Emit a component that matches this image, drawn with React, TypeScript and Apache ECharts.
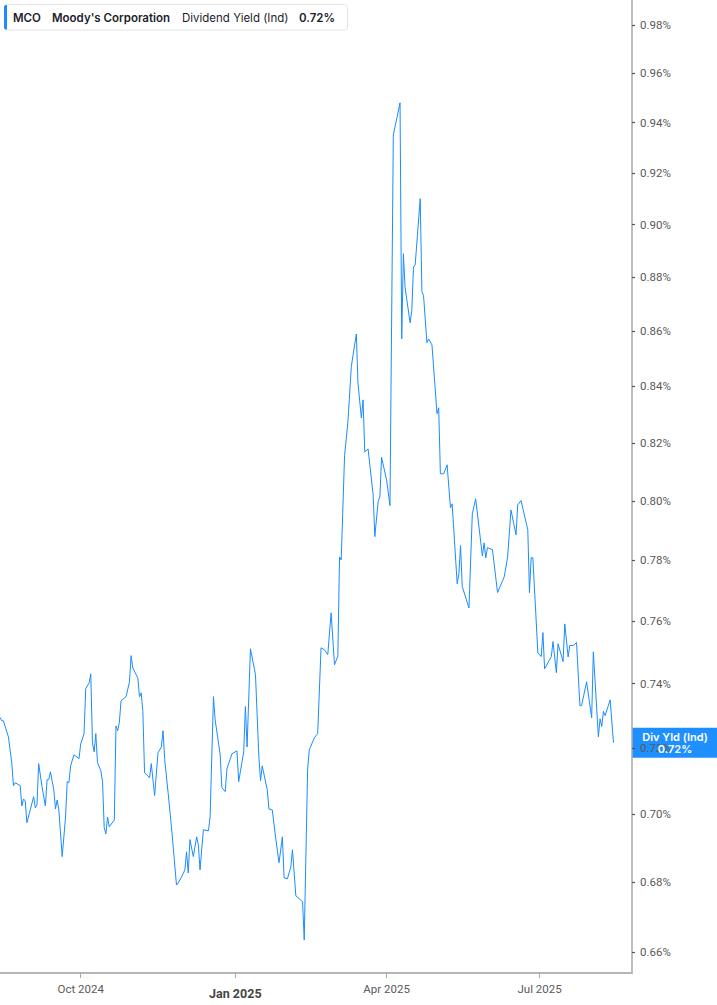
import React, { useEffect, useRef } from 'react';
import * as echarts from 'echarts';

const ticker = 'MCO';
const company = "Moody's Corporation";
const metric = 'Dividend Yield (Ind)';
const badgeTitle = 'Div Yld (Ind)';

const dates = [
  '2024-08-14','2024-08-15','2024-08-16','2024-08-19','2024-08-21','2024-08-22','2024-08-23','2024-08-26','2024-08-27','2024-08-28',
  '2024-08-29','2024-08-30','2024-09-01','2024-09-03','2024-09-04','2024-09-05','2024-09-06','2024-09-08','2024-09-10','2024-09-11',
  '2024-09-12','2024-09-13','2024-09-15','2024-09-16','2024-09-17','2024-09-18','2024-09-20','2024-09-22','2024-09-23','2024-09-24',
  '2024-09-25','2024-09-27','2024-09-30','2024-10-01','2024-10-03','2024-10-04','2024-10-06','2024-10-07','2024-10-08','2024-10-09',
  '2024-10-10','2024-10-11','2024-10-13','2024-10-14','2024-10-15','2024-10-16','2024-10-17','2024-10-18','2024-10-21','2024-10-22',
  '2024-10-23','2024-10-24','2024-10-25','2024-10-28','2024-10-30','2024-10-31','2024-11-01','2024-11-04','2024-11-05','2024-11-06',
  '2024-11-07','2024-11-08','2024-11-11','2024-11-12','2024-11-14','2024-11-16','2024-11-18','2024-11-19','2024-11-20','2024-11-22',
  '2024-11-24','2024-11-27','2024-11-28','2024-11-30','2024-12-02','2024-12-03','2024-12-04','2024-12-05','2024-12-07','2024-12-09',
  '2024-12-10','2024-12-11','2024-12-13','2024-12-16','2024-12-17','2024-12-19','2024-12-20','2024-12-23','2024-12-24','2024-12-26',
  '2024-12-27','2024-12-30','2025-01-02','2025-01-03','2025-01-06','2025-01-07','2025-01-08','2025-01-10','2025-01-13','2025-01-15',
  '2025-01-16','2025-01-17','2025-01-20','2025-01-21','2025-01-23','2025-01-25','2025-01-27','2025-01-29','2025-01-30','2025-02-01',
  '2025-02-03','2025-02-04','2025-02-06','2025-02-10','2025-02-11','2025-02-13','2025-02-14','2025-02-17','2025-02-19','2025-02-21',
  '2025-02-23','2025-02-25','2025-02-27','2025-03-01','2025-03-03','2025-03-04','2025-03-05','2025-03-07','2025-03-09','2025-03-11',
  '2025-03-12','2025-03-14','2025-03-15','2025-03-17','2025-03-18','2025-03-19','2025-03-21','2025-03-24','2025-03-25','2025-03-27',
  '2025-03-28','2025-03-29','2025-04-01','2025-04-03','2025-04-05','2025-04-09','2025-04-10','2025-04-11','2025-04-12','2025-04-15',
  '2025-04-16','2025-04-17','2025-04-18','2025-04-21','2025-04-22','2025-04-23','2025-04-25','2025-04-26','2025-04-28','2025-05-01',
  '2025-05-02','2025-05-03','2025-05-05','2025-05-07','2025-05-09','2025-05-10','2025-05-13','2025-05-14','2025-05-15','2025-05-16',
  '2025-05-20','2025-05-22','2025-05-24','2025-05-28','2025-05-29','2025-05-30','2025-05-31','2025-06-03','2025-06-06','2025-06-10',
  '2025-06-12','2025-06-14','2025-06-17','2025-06-18','2025-06-20','2025-06-24','2025-06-25','2025-06-26','2025-06-27','2025-06-30',
  '2025-07-02','2025-07-03','2025-07-04','2025-07-08','2025-07-09','2025-07-11','2025-07-12','2025-07-15','2025-07-16','2025-07-18',
  '2025-07-19','2025-07-21','2025-07-23','2025-07-25','2025-07-26','2025-07-29','2025-08-01','2025-08-02','2025-08-05','2025-08-06',
  '2025-08-07','2025-08-08','2025-08-09','2025-08-12','2025-08-14',
];

// Dividend yield, percent
const yieldPct = [
  0.7294,0.7284,0.7284,0.7234,0.7155,0.7085,0.7094,0.7085,0.7024,0.7045,
  0.7039,0.6974,0.7012,0.7052,0.7018,0.7027,0.7152,0.7082,0.7024,0.7103,
  0.7103,0.7127,0.7073,0.7015,0.7042,0.7012,0.6874,0.6991,0.7097,0.7094,
  0.7145,0.7179,0.7167,0.7212,0.7244,0.7384,0.7402,0.7431,0.7216,0.7188,
  0.7244,0.7155,0.7130,0.7097,0.6959,0.6941,0.6991,0.6962,0.6982,0.7268,
  0.7253,0.7278,0.7346,0.7359,0.7405,0.7489,0.7450,0.7418,0.7359,0.7371,
  0.7312,0.7124,0.7109,0.7152,0.7055,0.7185,0.7203,0.7253,0.7164,0.7064,
  0.6962,0.6791,0.6797,0.6815,0.6835,0.6888,0.6826,0.6924,0.6874,0.6932,
  0.6909,0.6835,0.6953,0.6950,0.6991,0.7359,0.7287,0.7179,0.7079,0.7067,
  0.7136,0.7182,0.7191,0.7097,0.7188,0.7328,0.7203,0.7511,0.7428,0.7173,
  0.7100,0.7145,0.7073,0.7015,0.7012,0.6929,0.6856,0.6932,0.6812,0.6809,
  0.6844,0.6894,0.6760,0.6743,0.6634,0.7133,0.7194,0.7231,0.7244,0.7514,
  0.7508,0.7492,0.7627,0.7460,0.7487,0.7811,0.7801,0.8156,0.8275,0.8471,
  0.8512,0.8590,0.8409,0.8288,0.8352,0.8169,0.8179,0.8020,0.7879,0.7999,
  0.8013,0.8150,0.8072,0.7984,0.9351,0.9480,0.8572,0.8889,0.8761,0.8631,
  0.8677,0.8839,0.8847,0.9100,0.8747,0.8731,0.8558,0.8572,0.8550,0.8303,
  0.8324,0.8093,0.8093,0.8124,0.7976,0.7990,0.7722,0.7755,0.7849,0.7713,
  0.7643,0.7956,0.8007,0.7814,0.7858,0.7808,0.7842,0.7835,0.7693,0.7745,
  0.7811,0.7969,0.7885,0.7986,0.8001,0.7902,0.7693,0.7809,0.7808,0.7498,
  0.7486,0.7563,0.7447,0.7486,0.7534,0.7435,0.7527,0.7470,0.7591,0.7485,
  0.7522,0.7521,0.7531,0.7331,0.7331,0.7406,0.7293,0.7501,0.7234,0.7290,
  0.7266,0.7313,0.7300,0.7349,0.7216,
];

const xTickDates = ['2024-10-01', '2025-01-01', '2025-04-01', '2025-07-01'];
const xTickLabels = ['Oct 2024', 'Jan 2025', 'Apr 2025', 'Jul 2025'];
const xTickBold = [false, true, false, false];
const yTickValues = [0.66, 0.68, 0.7, 0.72, 0.74, 0.76, 0.78, 0.8, 0.82, 0.84, 0.86, 0.88, 0.9, 0.92, 0.94, 0.96, 0.98];

const X_MIN = '2024-08-14';
const X_MAX = '2025-08-25';
const Y_MIN = 0.6541;
const Y_MAX = 0.9905;

const LINE_COLOR = '#1a8cff';
const BADGE_COLOR = '#1e8fff';
const TEXT_DARK = '#1d1d2b';
const AXIS_TEXT = '#5a5a5a';

function ts(s: string): number {
  const [y, m, d] = s.split('-').map(Number);
  return Date.UTC(y, m - 1, d);
}

export default function App() {
  const ref = useRef<HTMLDivElement>(null);

  useEffect(() => {
    document.body.style.margin = '0';
    const el = ref.current;
    if (!el) return;
    const chart = echarts.init(el, null, { renderer: 'svg' });

    const seriesData = dates.map((d, i) => [ts(d), Math.log(yieldPct[i])]);
    const xTicks = xTickDates.map(ts);
    const yTicks = yTickValues.map((v) => Math.log(v));
    const last = yieldPct[yieldPct.length - 1];
    const lastLabel = last.toFixed(2) + '%';

    const option: any = {
      animation: false,
      grid: { left: 0, right: 85, top: 0, bottom: 32, containLabel: false },
      xAxis: {
        type: 'value',
        min: ts(X_MIN),
        max: ts(X_MAX),
        axisLine: { show: true, lineStyle: { color: '#b4b4b4', width: 2 } },
        axisTick: { show: true, customValues: xTicks, length: 5, lineStyle: { color: '#a8a8a8', width: 1 } },
        axisLabel: {
          customValues: xTicks,
          color: AXIS_TEXT,
          fontSize: 11.5,
          fontFamily: 'Roboto',
          margin: 10,
          formatter: (v: number) => {
            let best = 0;
            let bd = Infinity;
            xTicks.forEach((t, i) => {
              const dd = Math.abs(t - v);
              if (dd < bd) { bd = dd; best = i; }
            });
            const lab = xTickLabels[best];
            return xTickBold[best] ? '{b|' + lab + '}' : lab;
          },
          rich: {
            b: { fontWeight: 'bold', fontSize: 12.5, color: '#454545', fontFamily: 'Roboto', padding: [4, 0, 0, 0] },
          },
        },
        splitLine: { show: false },
      },
      yAxis: {
        type: 'value',
        position: 'right',
        min: Math.log(Y_MIN),
        max: Math.log(Y_MAX),
        axisLine: { show: true, lineStyle: { color: '#a8a8a8', width: 1.5 } },
        axisTick: { show: true, customValues: yTicks, length: 3, lineStyle: { color: '#555', width: 1.2 } },
        axisLabel: {
          customValues: yTicks,
          color: AXIS_TEXT,
          fontSize: 11.5,
          fontFamily: 'Roboto',
          margin: 8,
          formatter: (v: number) => Math.exp(v).toFixed(2) + '%',
        },
        splitLine: { show: false },
      },
      series: [
        {
          type: 'line',
          data: seriesData,
          showSymbol: false,
          silent: true,
          lineStyle: { color: LINE_COLOR, width: 1 },
        },
      ],
    };
    chart.setOption(option);

    const p = chart.convertToPixel({ gridIndex: 0 }, [ts(dates[dates.length - 1]), Math.log(last)]) as number[];
    const gridRight = 717 - 85;
    const by = p && isFinite(p[1]) ? p[1] : 743;

    chart.setOption({
      graphic: [
        {
          type: 'group',
          children: [
            { type: 'rect', shape: { x: 4.5, y: 4.5, width: 343, height: 25.5, r: 3 }, style: { fill: '#ffffff', stroke: '#e4e4e4', lineWidth: 1 } },
            { type: 'rect', shape: { x: 4, y: 5, width: 3, height: 24.5, r: [2, 0, 0, 2] }, style: { fill: LINE_COLOR } },
            { type: 'text', x: 13, y: 17.5, style: { text: ticker, fill: TEXT_DARK, font: '600 11.5px Inter', verticalAlign: 'middle' } },
            { type: 'text', x: 52, y: 17.5, style: { text: company, fill: TEXT_DARK, font: '600 11.5px Inter', verticalAlign: 'middle' } },
            { type: 'text', x: 182, y: 17.5, style: { text: metric, fill: TEXT_DARK, font: '11.5px Inter', verticalAlign: 'middle' } },
            { type: 'text', x: 299, y: 17.5, style: { text: lastLabel, fill: TEXT_DARK, font: '600 11.5px Inter', verticalAlign: 'middle' } },
          ],
        },
        {
          type: 'rect',
          z: -1,
          shape: { x: gridRight, y: by - 15, width: 85, height: 30 },
          style: { fill: BADGE_COLOR },
        },
        {
          type: 'text',
          z: 10,
          x: gridRight + 43,
          y: by - 6,
          style: { text: badgeTitle, fill: '#ffffff', font: '600 11px Inter', align: 'center', verticalAlign: 'middle' },
        },
        {
          type: 'text',
          z: 10,
          x: gridRight + 43,
          y: by + 6,
          style: { text: lastLabel, fill: '#ffffff', font: '600 11px Inter', align: 'center', verticalAlign: 'middle' },
        },
      ],
    });

    return () => {
      chart.dispose();
    };
  }, []);

  return <div ref={ref} style={{ position: 'absolute', left: 0, top: 0, width: 717, height: 1005 }} />;
}
